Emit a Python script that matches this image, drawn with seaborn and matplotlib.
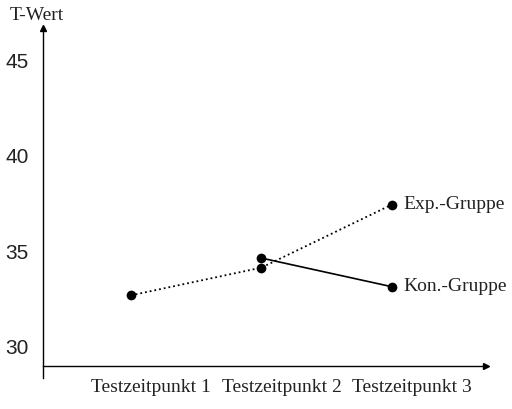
import pandas as pd
import matplotlib
matplotlib.use("Agg")
import matplotlib.pyplot as plt
import matplotlib.transforms as mtransforms
import seaborn as sns

# data
zeitpunkte = ["Testzeitpunkt 1", "Testzeitpunkt 2", "Testzeitpunkt 3"]
exp_x = [1, 2, 3]
exp_werte = [32.7, 34.15, 37.45]
kon_x = [2, 3]
kon_werte = [34.65, 33.15]

exp_df = pd.DataFrame({'t': exp_x, 'wert': exp_werte})
kon_df = pd.DataFrame({'t': kon_x, 'wert': kon_werte})

sns.set_style("white")
serif = ['Liberation Serif', 'DejaVu Serif']
sans = ['Liberation Sans', 'DejaVu Sans']
txt = '#222222'

fig = plt.figure(figsize=(5.12, 4.09), dpi=100)
ax = fig.add_axes([0.084, 0.077, 0.865, 0.855])

sns.lineplot(data=exp_df, x='t', y='wert', ax=ax, color='black', linestyle=':',
             linewidth=1.3, marker='o', markersize=7, markeredgewidth=0)
sns.lineplot(data=kon_df, x='t', y='wert', ax=ax, color='black', linestyle='-',
             linewidth=1.2, marker='o', markersize=7, markeredgewidth=0)

ax.set_xlim(0.326, 3.72)
ax.set_ylim(28.4, 46.7)

# axes like the original: left spine and bottom spine at y=29 with arrows
for s in ['top', 'right']:
    ax.spines[s].set_visible(False)
ax.spines['bottom'].set_position(('data', 29))
ax.spines['left'].set_color('black')
ax.spines['bottom'].set_color('black')
ax.spines['left'].set_linewidth(1)
ax.spines['bottom'].set_linewidth(1)
ax.plot(1, 29, '>', color='black', markersize=4, transform=ax.get_yaxis_transform(), clip_on=False)
ax.plot(0.326, 1, '^', color='black', markersize=4, transform=ax.get_xaxis_transform(), clip_on=False)

ax.set_xticks([0.326, 1, 2, 3])
ax.set_xticklabels([''] + zeitpunkte, fontfamily=serif, fontsize=14, color=txt)
ax.set_yticks([30, 35, 40, 45])
ax.set_yticklabels(['30', '35', '40', '45'], fontfamily=sans, fontsize=15, color=txt)
ax.tick_params(axis='both', direction='out', width=1, colors='black')
ax.tick_params(axis='y', length=3.5, pad=7)
ax.tick_params(axis='x', length=5, pad=4)
for lab in ax.get_xticklabels() + ax.get_yticklabels():
    lab.set_color(txt)
# labels sit a little right of their ticks in the original
shift = mtransforms.ScaledTranslation(20 / 100, 0, fig.dpi_scale_trans)
for lab in ax.get_xticklabels():
    lab.set_transform(lab.get_transform() + shift)
ax.set_xlabel('')
ax.set_ylabel('')

fig.text(0.018, 0.952, 'T-Wert', fontfamily=serif, fontsize=14, color=txt)
ax.text(3.09, exp_werte[-1], 'Exp.-Gruppe', fontfamily=serif, fontsize=14,
        va='center', ha='left', color=txt)
ax.text(3.09, kon_werte[-1], 'Kon.-Gruppe', fontfamily=serif, fontsize=14,
        va='center', ha='left', color=txt)

fig.savefig('out.png', dpi=100)
